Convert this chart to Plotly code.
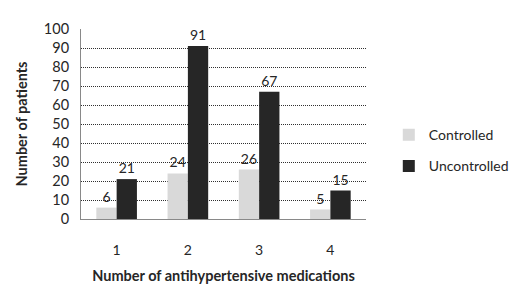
import plotly.graph_objects as go

categories = ["1", "2", "3", "4"]
controlled = [6, 24, 26, 5]
uncontrolled = [21, 91, 67, 15]
y_ticks = list(range(0, 101, 10))

FONT = "Lato, 'Open Sans', sans-serif"

fig = go.Figure()
fig.add_trace(go.Bar(
    x=categories, y=controlled, name="Controlled",
    marker=dict(color="#d9d9d9", line=dict(width=0)),
    text=controlled, textposition="outside", cliponaxis=False,
    textfont=dict(size=14, color="#262626", family=FONT),
    legendgroup="a",
))
fig.add_trace(go.Bar(
    x=categories, y=uncontrolled, name="Uncontrolled",
    marker=dict(color="#262626", line=dict(width=0)),
    text=uncontrolled, textposition="outside", cliponaxis=False,
    textfont=dict(size=14, color="#262626", family=FONT),
    legendgroup="b",
))

fig.update_layout(
    width=518, height=286,
    margin=dict(l=73, r=121, t=17, b=65),
    paper_bgcolor="white", plot_bgcolor="white",
    barmode="group", bargap=0.43, bargroupgap=0,
    font=dict(family=FONT, size=14, color="#262626"),
    showlegend=True,
    legend=dict(x=1.08, y=0.36, xanchor="left", yanchor="middle",
                traceorder="grouped", tracegroupgap=10,
                font=dict(size=14, family=FONT), itemwidth=30),
)
fig.update_xaxes(
    showline=True, linecolor="#898989", linewidth=1,
    ticks="", ticklabelstandoff=18,
    title=dict(text="<b>Number of antihypertensive medications</b>",
               font=dict(size=14.5, family=FONT), standoff=14),
    tickfont=dict(size=14),
)
fig.update_yaxes(
    range=[0, 100], tickvals=y_ticks,
    showline=True, linecolor="#898989", linewidth=1,
    showgrid=True, gridcolor="#303030", griddash="1px,1px", gridwidth=1,
    zeroline=False, ticks="", ticklabelstandoff=8,
    title=dict(text="<b>Number of patients</b>",
               font=dict(size=14.5, family=FONT), standoff=12),
    tickfont=dict(size=14.5),
)

fig.write_html("out.html")
